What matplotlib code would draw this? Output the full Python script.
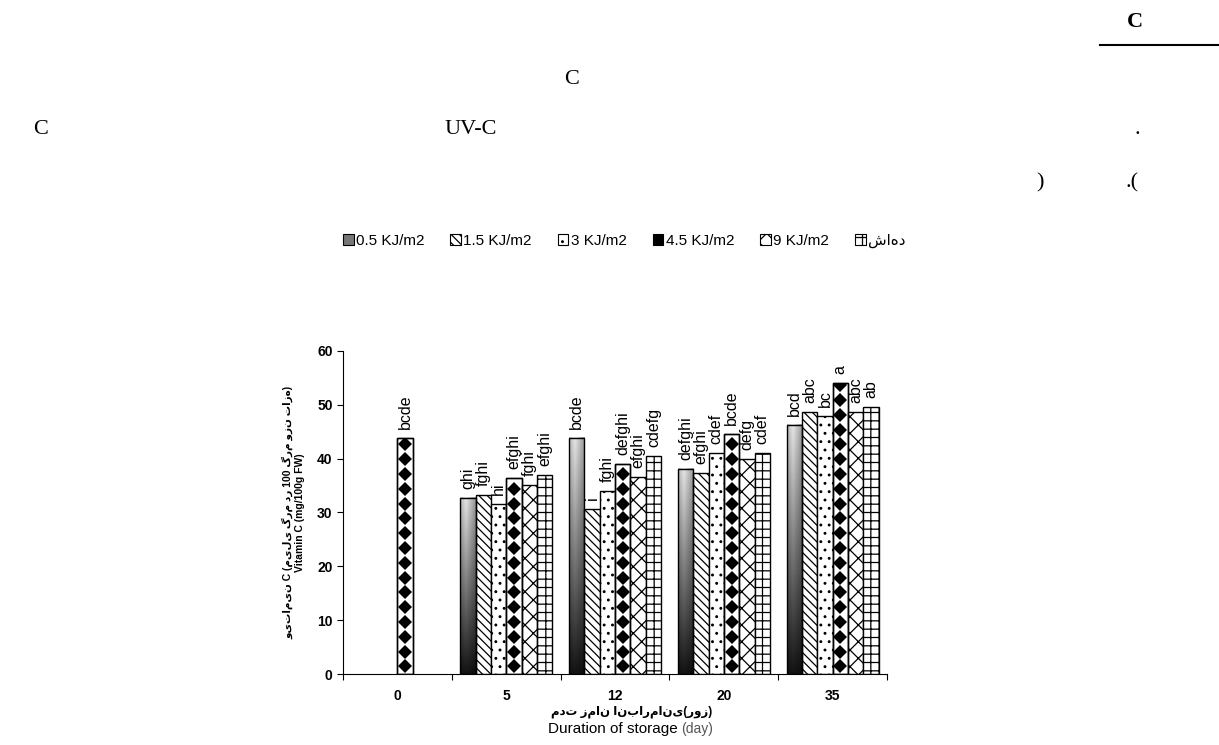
import matplotlib
matplotlib.use("Agg")
import matplotlib.pyplot as plt
from matplotlib.patches import Patch, Rectangle
import numpy as np

plt.rcParams['font.family'] = ['Liberation Sans', 'DejaVu Sans']
plt.rcParams['hatch.linewidth'] = 0.9

# data
days = ['0', '5', '12', '20', '35']
doses = ['0.5 KJ/m2', '1.5 KJ/m2', '3 KJ/m2', '4.5 KJ/m2', '9 KJ/m2', 'شاهد']
v05 = [np.nan, 32.7, 43.9, 38.1, 46.3]
v15 = [np.nan, 33.3, 30.7, 37.4, 48.7]
v3 = [np.nan, 31.6, 34.0, 41.1, 48.0]
v45 = [43.9, 36.4, 39.0, 44.6, 54.1]
v9 = [np.nan, 35.1, 36.6, 40.0, 48.7]
vctrl = [np.nan, 37.0, 40.5, 41.1, 49.6]
l05 = ['', 'ghi', 'bcde', 'defghi', 'bcd']
l15 = ['', 'fghi', 'i', 'efghi', 'abc']
l3 = ['', 'hi', 'fghi', 'cdef', 'bc']
l45 = ['bcde', 'efghi', 'defghi', 'bcde', 'a']
l9 = ['', 'fghi', 'efghi', 'defg', 'abc']
lctrl = ['', 'efghi', 'cdefg', 'cdef', 'ab']

series = [v05, v15, v3, v45, v9, vctrl]
letters = [l05, l15, l3, l45, l9, lctrl]
hatches = [None, '\\\\\\\\', '..', None, 'xx', '++']

fig = plt.figure(figsize=(12.19, 7.45), dpi=100)
ax = fig.add_axes([0.2814, 0.0953, 0.4463, 0.4336])

x = np.arange(len(days))
w = 0.141
for i, (vals, labs) in enumerate(zip(series, letters)):
    xs = x + (i - 2.5) * w
    for xi, v, lab in zip(xs, vals, labs):
        if np.isnan(v):
            continue
        x0 = xi - w / 2
        if i == 0:
            # grey gradient bar
            rows = np.linspace(0.08, 0.9, 60)[:, None]
            cols = 1 - 0.45 * np.abs(np.linspace(-0.2, 1.0, 20) - 0.25)[None, :]
            grad = rows * cols
            ax.imshow(grad, extent=[x0, x0 + w, 0, v], origin='lower',
                      aspect='auto', cmap='gray', vmin=0, vmax=1, zorder=2)
            ax.add_patch(Rectangle((x0, 0), w, v, fill=False, ec='black',
                                   lw=1.0, zorder=3))
        elif i == 3:
            r = Rectangle((x0, 0), w, v, fc='white', ec='black', lw=1.0, zorder=2)
            ax.add_patch(r)
            ys = np.arange(1.4, v, 2.75)
            m, = ax.plot(np.full(len(ys), xi), ys, 'D', color='black',
                         ms=7.5, mew=0, zorder=2.5)
            m.set_clip_path(r)
            ax.add_patch(Rectangle((x0, 0), w, v, fill=False, ec='black',
                                   lw=1.0, zorder=3))
        else:
            ax.bar(xi, v, w, color='white', edgecolor='black', lw=1.0,
                   hatch=hatches[i], zorder=2)
        ax.text(xi, v + 1.6, lab, rotation=90, ha='center', va='bottom',
                fontsize=11.5)

ax.set_xlim(-0.5, 4.5)
ax.set_ylim(0, 60)
ax.set_yticks(np.arange(0, 61, 10))
ax.set_xticks(np.arange(-0.5, 5, 1))
ax.set_xticklabels([])
ax.set_xticks(x, minor=True)
ax.set_xticklabels(days, minor=True, fontsize=10, fontweight='bold')
ax.tick_params(axis='x', which='minor', length=0, pad=11)
ax.tick_params(axis='x', which='major', length=4, direction='out')
ax.tick_params(axis='y', length=4, labelsize=10)
for t in ax.get_yticklabels():
    t.set_fontweight('bold')
for s in ['top', 'right']:
    ax.spines[s].set_visible(False)
ax.set_ylabel('ویتامین C (میلی گرم در 100 گرم وزن تازه)\nVitamin C (mg/100g FW)',
              fontsize=7.5, fontweight='bold', labelpad=9)

fig.text(0.518, 0.044, 'مدت زمان انبارمانی(روز)', ha='center', va='center',
         fontsize=8.5, fontweight='bold')
fig.text(0.556, 0.022, 'Duration of storage', ha='right', va='center', fontsize=11)
fig.text(0.559, 0.022, '(day)', ha='left', va='center', fontsize=10, color='#555555')

handles = [
    Patch(fc='#777777', ec='black', lw=0.8),
    Patch(fc='white', ec='black', hatch='\\\\\\\\', lw=0.8),
    Patch(fc='white', ec='black', hatch='..', lw=0.8),
    Patch(fc='black', ec='black', lw=0.8),
    Patch(fc='white', ec='black', hatch='xx', lw=0.8),
    Patch(fc='white', ec='black', hatch='++', lw=0.8),
]
fig.legend(handles, doses, loc='center', bbox_to_anchor=(0.512, 0.677), ncol=6,
           frameon=False, fontsize=11, handlelength=0.7, handleheight=0.7,
           handletextpad=0.15, columnspacing=1.7)

# stray page text around the figure
serif = dict(family='Liberation Serif', fontsize=16, ha='center', va='center')
fig.text(0.931, 0.970, 'C', fontweight='bold', **serif)
fig.add_artist(plt.Line2D([0.902, 1.0], [0.940, 0.940], color='black', lw=1.5))
fig.text(0.469, 0.893, 'C', **serif)
fig.text(0.033, 0.826, 'C', **serif)
fig.text(0.386, 0.826, 'UV-C', **serif)
fig.text(0.933, 0.826, '.', **serif)
fig.text(0.853, 0.755, ')', **serif)
fig.text(0.929, 0.755, '.(', **serif)

fig.savefig('out.png', dpi=100)
